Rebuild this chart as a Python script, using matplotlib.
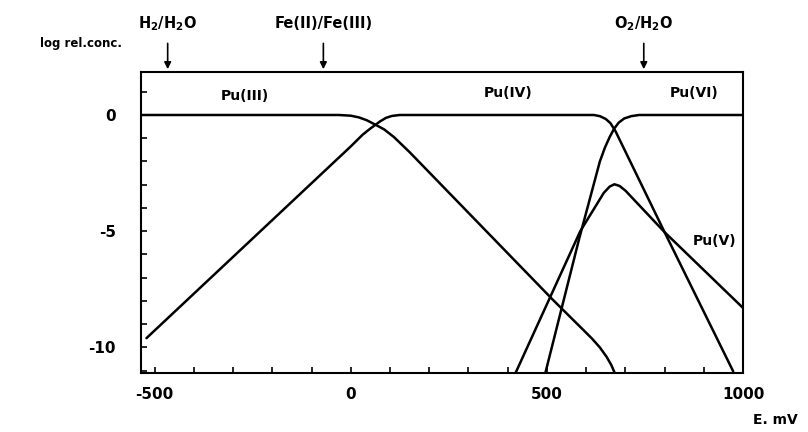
import matplotlib
matplotlib.use("Agg")
import matplotlib.pyplot as plt
import numpy as np

# Data (E in mV, log relative concentration)
pu3_E = [-535, -30, 0, 20, 40, 63, 85, 110, 150, 514, 590, 615, 635, 652, 664, 673]
pu3_v = [0, 0, -0.03, -0.1, -0.22, -0.42, -0.62, -0.95, -1.6, -7.93, -9.2, -9.62, -10.0, -10.4, -10.75, -11.1]

pu4_E = [-521, 0, 30, 50, 63, 75, 90, 105, 125, 620, 635, 650, 662, 675, 800, 975]
pu4_v = [-9.6, -1.35, -0.85, -0.58, -0.42, -0.27, -0.12, -0.04, 0, 0, -0.05, -0.17, -0.35, -0.7, -5.04, -11.03]

pu5_E = [420, 585, 625, 645, 660, 672, 685, 700, 800, 1000]
pu5_v = [-11.1, -5.0, -3.9, -3.35, -3.08, -2.98, -3.05, -3.25, -5.04, -8.3]

pu6_E = [496, 582, 635, 648, 660, 671, 683, 697, 715, 735, 1000]
pu6_v = [-11.1, -5.34, -2.0, -1.4, -0.95, -0.6, -0.33, -0.15, -0.05, 0, 0]

species_labels = ["Pu(III)", "Pu(IV)", "Pu(VI)", "Pu(V)"]
species_label_E = [-270, 400, 876, 927]
species_label_v = [0.82, 0.95, 0.95, -5.43]

couples = [r"H$_\mathbf{2}$/H$_\mathbf{2}$O", "Fe(II)/Fe(III)", r"O$_\mathbf{2}$/H$_\mathbf{2}$O"]
couple_E = [-467, -70, 747]

xticks = [-500, 0, 500, 1000]
xticklabels = ["-500", "0", "500", "1000"]
yticks = [0, -5, -10]
yticklabels = ["0", "-5", "-10"]

plt.rcParams['font.family'] = ['DejaVu Sans']
plt.rcParams['font.weight'] = 'bold'
plt.rcParams['mathtext.fontset'] = 'dejavusans'

fig = plt.figure(figsize=(8.08, 4.32), dpi=100)
ax = fig.add_axes([141/808, 59/432, 602/808, 301/432])

lw = 1.8
for E, v in [(pu3_E, pu3_v), (pu4_E, pu4_v), (pu5_E, pu5_v), (pu6_E, pu6_v)]:
    ax.plot(E, v, color='black', lw=lw, solid_capstyle='round', solid_joinstyle='round')

ax.set_xlim(-535, 1000)
ax.set_ylim(-11.1, 1.85)

ax.set_xticks(xticks)
ax.set_xticklabels(xticklabels, fontsize=11, fontweight='bold')
ax.set_xticks(np.arange(-500, 1001, 100), minor=True)
ax.set_yticks(yticks)
ax.set_yticklabels(yticklabels, fontsize=11, fontweight='bold')
ax.set_yticks(np.arange(-11, 2, 1), minor=True)
ax.tick_params(which='both', direction='in', length=4, width=1.2, top=False, right=False)
ax.tick_params(axis='x', which='major', pad=10)
ax.tick_params(axis='y', which='major', pad=18)

for s in ax.spines.values():
    s.set_linewidth(1.5)

for lab, E, v in zip(species_labels, species_label_E, species_label_v):
    ax.text(E, v, lab, ha='center', va='center', fontsize=10, fontweight='bold')

for lab, E in zip(couples, couple_E):
    ax.annotate('', xy=(E, 1.85), xytext=(E, 3.2), xycoords='data', textcoords='data',
                arrowprops=dict(arrowstyle='-|>', color='black', lw=1.2, mutation_scale=10),
                annotation_clip=False)
    ax.text(E, 3.95, lab, ha='center', va='center', fontsize=10.5, fontweight='bold', clip_on=False)

fig.text(40/808, 1 - 44/432, "log rel.conc.", ha='left', va='center', fontsize=8.5, fontweight='bold')
fig.text(798/808, 1 - 420/432, "E. mV", ha='right', va='center', fontsize=10, fontweight='bold')

fig.savefig("out.png", dpi=100)
